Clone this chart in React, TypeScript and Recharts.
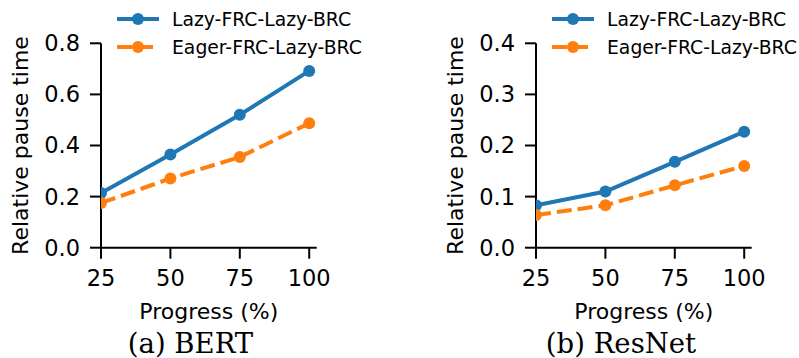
import { LineChart, Line, XAxis, YAxis } from 'recharts';

// progress steps on the x axis
const progress = [25, 50, 75, 100];
const xTicks = [25, 50, 75, 100];

// (a) BERT
const bertLazy = [0.214, 0.365, 0.52, 0.692];
const bertEager = [0.175, 0.271, 0.355, 0.487];
const bertTicks = [0, 0.2, 0.4, 0.6, 0.8];

// (b) ResNet
const resnetLazy = [0.083, 0.11, 0.168, 0.227];
const resnetEager = [0.064, 0.083, 0.122, 0.16];
const resnetTicks = [0, 0.1, 0.2, 0.3, 0.4];

const seriesNames = ['Lazy-FRC-Lazy-BRC', 'Eager-FRC-Lazy-BRC'];
const seriesColors = ['#1f77b4', '#ff7f0e'];
const seriesDash = [undefined, '15 6'];

const SANS = '"DejaVu Sans", sans-serif';
const SERIF = '"DejaVu Serif", serif';

const buildRows = (lazy: number[], eager: number[]) =>
	progress.map((p, i) => ({ progress: p, lazy: lazy[i], eager: eager[i] }));

interface PanelProps {
	left: number;
	lazy: number[];
	eager: number[];
	yTicks: number[];
	caption: string;
	captionX: number;
}

function Panel({ left, lazy, eager, yTicks, caption, captionX }: PanelProps) {
	const data = buildRows(lazy, eager);
	const keys = ['lazy', 'eager'];

	return (
		<div style={{ position: 'absolute', left, top: 0, width: 364, height: 358 }}>
			<LineChart
				width={330}
				height={358}
				data={data}
				margin={{ top: 43.3, right: 13.3, bottom: 40.3, left: 41 }}
			>
				<XAxis
					dataKey="progress"
					type="number"
					domain={[25, 102.7]}
					ticks={xTicks}
					allowDataOverflow
					height={70}
					tickSize={11}
					tickMargin={11}
					axisLine={{ stroke: '#000', strokeWidth: 2 }}
					tickLine={{ stroke: '#000', strokeWidth: 2 }}
					tick={{ fill: '#000', fontSize: 22.5, fontFamily: SANS }}
					label={{
						content: (p: any) => {
							const vb = p.viewBox;
							return (
								<text
									x={vb.x + vb.width / 2}
									y={vb.y + 71}
									textAnchor="middle"
									fontSize={22}
									fontFamily={SANS}
									fill="#000"
								>
									Progress (%)
								</text>
							);
						},
					}}
				/>
				<YAxis
					type="number"
					domain={[yTicks[0], yTicks[yTicks.length - 1]]}
					ticks={yTicks}
					width={60}
					tickSize={11}
					tickMargin={10}
					tickFormatter={(v: number) => v.toFixed(1)}
					axisLine={{ stroke: '#000', strokeWidth: 2 }}
					tickLine={{ stroke: '#000', strokeWidth: 2 }}
					tick={{ fill: '#000', fontSize: 22.5, fontFamily: SANS }}
					label={{
						content: (p: any) => {
							const vb = p.viewBox;
							const cx = vb.x - 21;
							const cy = vb.y + vb.height / 2;
							return (
								<text
									x={cx}
									y={cy}
									transform={`rotate(-90 ${cx} ${cy})`}
									textAnchor="middle"
									dominantBaseline="central"
									fontSize={22}
									fontFamily={SANS}
									fill="#000"
								>
									Relative pause time
								</text>
							);
						},
					}}
				/>
				{keys.map((k, i) => (
					<Line
						key={k}
						dataKey={k}
						name={seriesNames[i]}
						stroke={seriesColors[i]}
						strokeWidth={4}
						strokeDasharray={seriesDash[i]}
						dot={{ r: 6, fill: seriesColors[i], stroke: 'none' }}
						activeDot={false}
						isAnimationActive={false}
					/>
				))}
			</LineChart>

			{/* legend + caption */}
			<svg
				width={364}
				height={358}
				style={{ position: 'absolute', left: 0, top: 0, pointerEvents: 'none' }}
			>
				{seriesNames.map((name, i) => {
					const y = 19 + i * 28;
					return (
						<g key={name}>
							<line
								x1={117}
								x2={159}
								y1={y}
								y2={y}
								stroke={seriesColors[i]}
								strokeWidth={4}
								strokeDasharray={seriesDash[i]}
							/>
							<circle cx={138} cy={y} r={6} fill={seriesColors[i]} />
							<text x={172} y={y + 7} fontSize={18.8} fontFamily={SANS} fill="#000">
								{name}
							</text>
						</g>
					);
				})}
				<text
					x={captionX}
					y={353}
					textAnchor="middle"
					fontSize={27.5}
					fontFamily={SERIF}
					fill="#000"
				>
					{caption}
				</text>
			</svg>
		</div>
	);
}

export default function App() {
	return (
		<div
			style={{
				position: 'absolute',
				left: 0,
				top: 0,
				width: 799,
				height: 358,
				overflow: 'hidden',
				background: '#fff',
			}}
		>
			<Panel
				left={0}
				lazy={bertLazy}
				eager={bertEager}
				yTicks={bertTicks}
				caption="(a) BERT"
				captionX={190.5}
			/>
			<Panel
				left={435}
				lazy={resnetLazy}
				eager={resnetEager}
				yTicks={resnetTicks}
				caption="(b) ResNet"
				captionX={186}
			/>
		</div>
	);
}
